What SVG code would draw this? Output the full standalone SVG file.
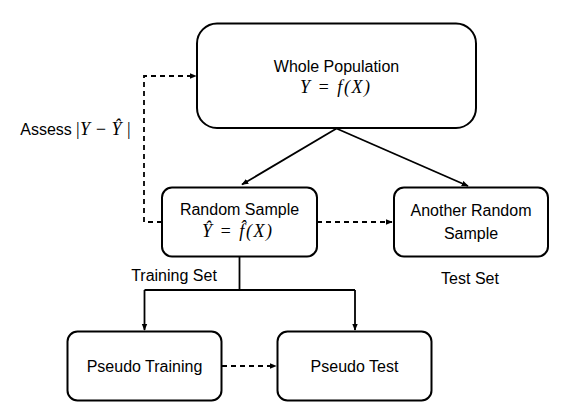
<svg xmlns="http://www.w3.org/2000/svg" width="563" height="412" viewBox="0 0 563 412">
<style>
.box{fill:#fff;stroke:#000;stroke-width:2}
.t{font-family:"Liberation Sans",Arial,sans-serif;font-size:16px;fill:#000;text-anchor:middle}
.m{font-family:"Liberation Serif","DejaVu Serif",serif;font-style:italic;font-size:18px;fill:#000;text-anchor:middle}
.ln{fill:none;stroke:#000;stroke-width:1.8}
.dash{fill:none;stroke:#000;stroke-width:1.8;stroke-dasharray:5 4}
</style>
<defs>
<marker id="ah" viewBox="0 0 10 10" refX="9" refY="5" markerWidth="7" markerHeight="7" markerUnits="userSpaceOnUse" orient="auto">
<path d="M0,1 L10,5 L0,9 Z" fill="#000"/>
</marker>
</defs>
<rect width="563" height="412" fill="#fff"/>
<g id="connectors">
<path class="ln" d="M336.5,128.5 L242,184.5" marker-end="url(#ah)"/>
<path class="ln" d="M336.5,128.5 L468,186" marker-end="url(#ah)"/>
<path class="dash" d="M317,222 L392,222" marker-end="url(#ah)"/>
<path class="dash" d="M162,222 L144,222 L144,76 L196,76" marker-end="url(#ah)"/>
<path class="ln" d="M239.5,257 L239.5,290"/>
<path class="ln" d="M144.5,290 L355,290"/>
<path class="ln" d="M144.5,290 L144.5,330" marker-end="url(#ah)"/>
<path class="ln" d="M355,290 L355,330" marker-end="url(#ah)"/>
<path class="dash" d="M222,366 L276,366" marker-end="url(#ah)"/>
</g>
<g id="whole-population">
<rect class="box" x="197" y="23.5" width="279" height="104.5" rx="20"/>
<text class="t" x="336.5" y="72">Whole Population</text>
<text class="m" x="335" y="93" textLength="70" lengthAdjust="spacing">Y = f(X)</text>
</g>
<g id="random-sample">
<rect class="box" x="162" y="187.5" width="155" height="69" rx="10"/>
<text class="t" x="239.5" y="215">Random Sample</text>
<text class="m" x="237" y="237" textLength="70" lengthAdjust="spacing">Ŷ = f̂(X)</text>
</g>
<g id="another-random-sample">
<rect class="box" x="394" y="187.5" width="154" height="69" rx="10"/>
<text class="t" x="471" y="216">Another Random</text>
<text class="t" x="471" y="239">Sample</text>
</g>
<g id="pseudo-training">
<rect class="box" x="67.5" y="331.5" width="154" height="69" rx="10"/>
<text class="t" x="144.5" y="372">Pseudo Training</text>
</g>
<g id="pseudo-test">
<rect class="box" x="277.5" y="331.5" width="154" height="69" rx="10"/>
<text class="t" x="354.5" y="372">Pseudo Test</text>
</g>
<g id="labels">
<text class="t" x="174" y="281">Training Set</text>
<text class="t" x="470" y="284">Test Set</text>
<text class="t" x="46" y="135">Assess</text>
<text class="m" x="103" y="135" textLength="56" lengthAdjust="spacing">|Y − Ŷ |</text>
</g>
</svg>
